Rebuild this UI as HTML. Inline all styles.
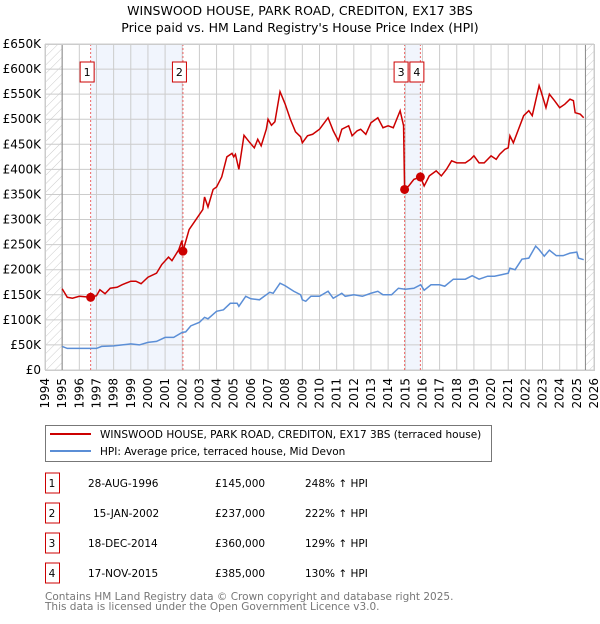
<!DOCTYPE html>
<html><head><meta charset="utf-8"><style>
body{margin:0;background:#fff;font-family:"DejaVu Sans","Liberation Sans",sans-serif;}
svg text{font-family:"DejaVu Sans","Liberation Sans",sans-serif;}
</style></head><body>
<svg id="c" width="600" height="620" xmlns="http://www.w3.org/2000/svg">
<defs><pattern id="hatch" width="6" height="6" patternUnits="userSpaceOnUse" patternTransform="rotate(45)"><line x1="0" y1="0" x2="0" y2="6" stroke="#ccc" stroke-width="1"/></pattern></defs>
<text x="300" y="15" text-anchor="middle" font-size="12.5">WINSWOOD HOUSE, PARK ROAD, CREDITON, EX17 3BS</text>
<text x="300" y="32" text-anchor="middle" font-size="12.5">Price paid vs. HM Land Registry's House Price Index (HPI)</text>
<g id="plot"></g>
<rect x="45.5" y="425.5" width="446" height="36" fill="#fff" stroke="#777"/>
<line x1="50" y1="434" x2="91" y2="434" stroke="#cc0000" stroke-width="2"/>
<text x="100" y="438" font-size="10.5">WINSWOOD HOUSE, PARK ROAD, CREDITON, EX17 3BS (terraced house)</text>
<line x1="50" y1="451" x2="91" y2="451" stroke="#5b8ed6" stroke-width="2"/>
<text x="100" y="455" font-size="10.5">HPI: Average price, terraced house, Mid Devon</text>
<g id="tbl"></g>
<text x="45" y="600" font-size="10.5" fill="#777">Contains HM Land Registry data © Crown copyright and database right 2025.</text>
<text x="45" y="610" font-size="10.5" fill="#777">This data is licensed under the Open Government Licence v3.0.</text>
</svg>
<script>
const yTicks=[0,50,100,150,200,250,300,350,400,450,500,550,600,650];
const years=[1994,1995,1996,1997,1998,1999,2000,2001,2002,2003,2004,2005,2006,2007,2008,2009,2010,2011,2012,2013,2014,2015,2016,2017,2018,2019,2020,2021,2022,2023,2024,2025,2026];
const propT=[1995.0,1995.3,1995.6,1996.0,1996.66,1997.0,1997.2,1997.5,1997.8,1998.2,1998.5,1999.0,1999.3,1999.6,2000.0,2000.5,2000.8,2001.2,2001.4,2001.8,2001.98,2002.04,2002.4,2002.8,2003.2,2003.3,2003.5,2003.8,2004.0,2004.3,2004.6,2004.9,2005.0,2005.1,2005.3,2005.6,2005.9,2006.2,2006.4,2006.6,2006.9,2007.0,2007.2,2007.4,2007.7,2008.0,2008.3,2008.6,2008.9,2009.0,2009.3,2009.6,2010.0,2010.5,2010.8,2011.1,2011.3,2011.7,2011.9,2012.2,2012.4,2012.7,2013.0,2013.4,2013.7,2014.0,2014.3,2014.7,2014.9,2014.96,2015.2,2015.5,2015.88,2016.1,2016.4,2016.8,2017.1,2017.4,2017.7,2018.0,2018.5,2018.8,2019.0,2019.3,2019.6,2020.0,2020.3,2020.5,2020.8,2021.0,2021.1,2021.3,2021.6,2021.9,2022.2,2022.4,2022.6,2022.8,2022.9,2023.2,2023.4,2023.7,2024.0,2024.3,2024.6,2024.8,2024.9,2025.2,2025.4];
const propV=[162,145,143,147,145,148,160,152,163,165,170,177,177,172,185,193,210,225,218,240,258,237,280,300,320,345,325,360,365,385,425,432,425,430,400,468,455,443,460,447,480,500,488,495,555,530,500,475,465,453,467,470,480,503,477,457,480,487,467,477,480,470,493,503,483,487,483,517,487,360,367,380,385,367,387,397,387,400,417,413,413,420,427,413,413,427,420,430,440,443,467,453,480,507,517,507,537,567,557,523,550,537,523,530,540,537,513,510,503];
const hpiT=[1995.0,1995.3,1996,1997,1997.3,1998,1998.5,1999,1999.5,2000,2000.5,2001,2001.5,2002,2002.2,2002.5,2003,2003.3,2003.5,2004,2004.4,2004.8,2005.2,2005.3,2005.7,2006,2006.5,2006.7,2007.1,2007.3,2007.7,2008,2008.5,2008.9,2009.0,2009.2,2009.5,2010,2010.5,2010.8,2011.3,2011.5,2012,2012.5,2013.0,2013.4,2013.7,2014.2,2014.6,2015,2015.5,2015.9,2016.1,2016.5,2017,2017.3,2017.8,2018.5,2018.9,2019.3,2019.8,2020.2,2020.6,2021.0,2021.1,2021.4,2021.8,2022.2,2022.6,2022.8,2023.1,2023.4,2023.8,2024.2,2024.6,2025,2025.1,2025.4];
const hpiV=[47,43,43,43,47,48,50,52,50,55,57,65,65,75,76,88,95,105,102,117,120,133,133,127,147,142,140,145,155,153,173,168,157,150,140,137,147,147,157,143,153,147,150,147,153,157,150,150,163,161,163,170,159,170,170,167,181,181,188,181,187,187,190,193,203,200,221,223,247,240,227,239,228,228,233,235,223,220];
const saleT=[1996.66,2002.04,2014.96,2015.88];
const saleV=[145,237,360,385];
const saleLabels=["1","2","3","4"];
const saleDates=["28-AUG-1996","15-JAN-2002","18-DEC-2014","17-NOV-2015"];
const salePrices=["£145,000","£237,000","£360,000","£385,000"];
const saleHpi=["248% ↑ HPI","222% ↑ HPI","129% ↑ HPI","130% ↑ HPI"];
const L=45,R=594,T=44,B=370;
const X=t=>L+(t-1994)/32*(R-L);
const Y=v=>B-v/650*(B-T);
const NS="http://www.w3.org/2000/svg";
const plot=document.getElementById('plot');
function mk(tag,attrs,parent){const e=document.createElementNS(NS,tag);for(const k in attrs)e.setAttribute(k,attrs[k]);(parent||plot).appendChild(e);return e;}
let h1=mk('rect',{x:L,y:T,width:X(1995)-L,height:B-T,fill:'url(#hatch)'});


let h2=mk('rect',{x:X(2025.5),y:T,width:R-X(2025.5),height:B-T,fill:'url(#hatch)'});


for(let i=0;i<saleT.length;i+=2){
 let s=mk('rect',{x:X(saleT[i]),y:T,width:X(saleT[i+1])-X(saleT[i]),height:B-T,fill:'#eef3fc',opacity:0.8});
 
 
}
yTicks.forEach(v=>{
 let g=mk('line',{x1:L,x2:R,y1:Y(v),y2:Y(v),stroke:'#ccc','stroke-width':1});
 
 
 let t=mk('text',{x:L-4,y:Y(v)+4,'text-anchor':'end','font-size':12});
 t.textContent=v===0?'£0':'£'+v+'K';
 
 
});
years.forEach(yr=>{
 let g=mk('line',{x1:X(yr),x2:X(yr),y1:T,y2:B,stroke:'#ccc','stroke-width':1});
 
 
 let t=mk('text',{x:0,y:0,'text-anchor':'end','font-size':12,transform:`translate(${X(yr)+4},${B+8}) rotate(-90)`});
 t.textContent=yr;
 
 
});
let ax1=mk('line',{x1:X(1995),x2:X(1995),y1:T,y2:B,stroke:'#888'});


let ax2=mk('line',{x1:X(2025.5),x2:X(2025.5),y1:T,y2:B,stroke:'#888'});


saleT.forEach((t,i)=>{
 let l=mk('line',{x1:X(t),x2:X(t),y1:T,y2:B,stroke:'#e66','stroke-width':1,'stroke-dasharray':'2,2'});
 
 
 let bx=mk('rect',{x:X(t)-3.5-7,y:62,width:14,height:20,fill:'#fff',stroke:'#c00'});
 
 
 let tx=mk('text',{x:X(t)-3.5,y:76,'text-anchor':'middle','font-size':11});
 tx.textContent=saleLabels[i];
 
 
});
let hp=mk('polyline',{points:hpiT.map((t,i)=>X(t)+','+Y(hpiV[i])).join(' '),fill:'none',stroke:'#5b8ed6','stroke-width':1.5});


let pp=mk('polyline',{points:propT.map((t,i)=>X(t)+','+Y(propV[i])).join(' '),fill:'none',stroke:'#cc0000','stroke-width':1.5});


saleT.forEach((t,i)=>{
 let c=mk('circle',{cx:X(t),cy:Y(saleV[i]),r:4.5,fill:'#cc0000'});
 
 
});
let fr=mk('rect',{x:L+0.5,y:T+0.5,width:R-L,height:B-T,fill:'none',stroke:'#ccc'});


const tbl=document.getElementById('tbl');
saleLabels.forEach((lab,i)=>{
 const cy=483+30*i;
 let b=mk('rect',{x:45.5,y:cy-10,width:14,height:20,fill:'#fff',stroke:'#c00'},tbl);
 
 
 const cols=[[52,lab,'middle'],[i===1?93:88,saleDates[i],'start'],[215,salePrices[i],'start'],[305,saleHpi[i],'start']];
 cols.forEach(([x,s,a],j)=>{
  let t=mk('text',{x:x,y:cy+4,'font-size':10.5,'text-anchor':a},tbl);
  t.textContent=s;
  
  
 });
});
</script>
</body></html>
